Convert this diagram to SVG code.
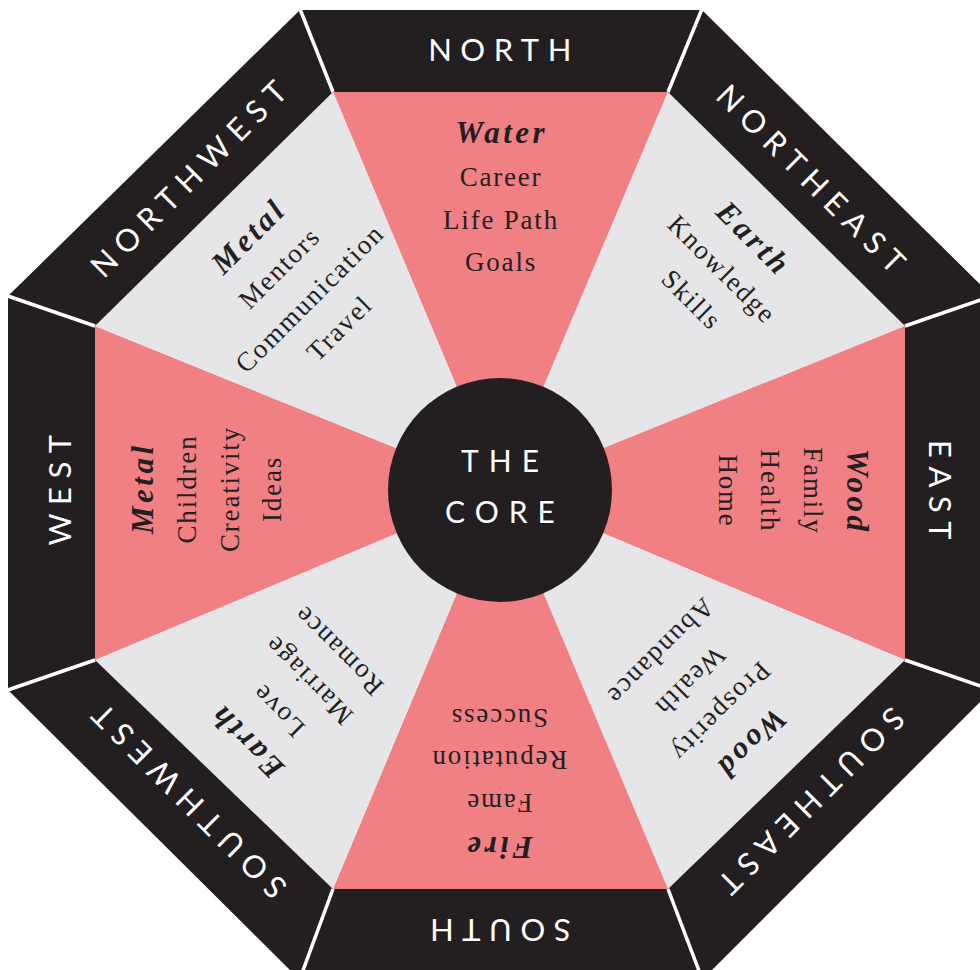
<svg xmlns="http://www.w3.org/2000/svg" width="980" height="970" viewBox="0 0 980 970">
<style>
.band{fill:#231f20}
.pink{fill:#f18085}
.gray{fill:#e6e6e8}
.dir{font-family:Lato,"Open Sans","Liberation Sans",sans-serif;font-size:31px;fill:#ffffff;letter-spacing:8.5px;text-anchor:middle}
.el{font-family:"Liberation Serif",serif;font-size:31px;font-weight:bold;font-style:italic;fill:#231f20;letter-spacing:3.5px;text-anchor:middle}
.ln{font-family:"Liberation Serif",serif;font-size:27px;fill:#231f20;letter-spacing:1.8px;text-anchor:middle}
.sep{stroke:#ffffff;stroke-width:3.5;fill:none}
.core{font-family:Lato,"Open Sans","Liberation Sans",sans-serif;font-size:30px;fill:#ffffff;letter-spacing:10px;text-anchor:middle}
</style>
<rect width="980" height="970" fill="#ffffff"/>

<g id="sector-north">
<polygon class="pink" points="500,490 333,92 668,92"/>
<text class="el" x="501.75" y="143">Water</text>
<text class="ln" x="501" y="186">Career</text>
<text class="ln" x="501" y="229">Life Path</text>
<text class="ln" x="501" y="271">Goals</text>
</g>
<g id="sector-northeast">
<polygon class="gray" points="500,490 668,92 905,326"/>
<g transform="rotate(45 500 490)">
<text class="el" x="501.75" y="143">Earth</text>
<text class="ln" x="501" y="186">Knowledge</text>
<text class="ln" x="501" y="229">Skills</text>
</g>
</g>
<g id="sector-east">
<polygon class="pink" points="500,490 905,326 905,660"/>
<g transform="rotate(90 500 490)">
<text class="el" x="501.75" y="143">Wood</text>
<text class="ln" x="501" y="186">Family</text>
<text class="ln" x="501" y="229">Health</text>
<text class="ln" x="501" y="271">Home</text>
</g>
</g>
<g id="sector-southeast">
<polygon class="gray" points="500,490 905,660 668,889"/>
<g transform="rotate(135 500 490)">
<text class="el" x="501.75" y="143">Wood</text>
<text class="ln" x="501" y="186">Prosperity</text>
<text class="ln" x="501" y="229">Wealth</text>
<text class="ln" x="501" y="271">Abundance</text>
</g>
</g>
<g id="sector-south">
<polygon class="pink" points="500,490 668,889 333,889"/>
<g transform="rotate(180 500 490)">
<text class="el" x="501.75" y="143">Fire</text>
<text class="ln" x="501" y="186">Fame</text>
<text class="ln" x="501" y="229">Reputation</text>
<text class="ln" x="501" y="271">Success</text>
</g>
</g>
<g id="sector-southwest">
<polygon class="gray" points="500,490 333,889 95,660"/>
<g transform="rotate(225 500 490)">
<text class="el" x="501.75" y="143">Earth</text>
<text class="ln" x="501" y="186">Love</text>
<text class="ln" x="501" y="229">Marriage</text>
<text class="ln" x="501" y="271">Romance</text>
</g>
</g>
<g id="sector-west">
<polygon class="pink" points="500,490 95,660 95,326"/>
<g transform="rotate(270 500 490)">
<text class="el" x="501.75" y="143">Metal</text>
<text class="ln" x="501" y="186">Children</text>
<text class="ln" x="501" y="229">Creativity</text>
<text class="ln" x="501" y="271">Ideas</text>
</g>
</g>
<g id="sector-northwest">
<polygon class="gray" points="500,490 95,326 333,92"/>
<g transform="rotate(315 500 490)">
<text class="el" x="501.75" y="143">Metal</text>
<text class="ln" x="501" y="186">Mentors</text>
<text class="ln" x="501" y="229">Communication</text>
<text class="ln" x="501" y="271">Travel</text>
</g>
</g>

<g id="band-north">
<polygon class="band" points="300,10 702,10 668,92 333,92"/>
<text class="dir" x="504" y="61">NORTH</text>
</g>
<g id="band-northeast">
<polygon class="band" points="702,10 992,296 905,326 668,92"/>
<text class="dir" x="504" y="61" transform="rotate(45 500 490)">NORTHEAST</text>
</g>
<g id="band-east">
<polygon class="band" points="992,296 992,690 905,660 905,326"/>
<text class="dir" x="504" y="61" transform="rotate(90 500 490)">EAST</text>
</g>
<g id="band-southeast">
<polygon class="band" points="992,690 702,980 668,889 905,660"/>
<text class="dir" x="504" y="61" transform="rotate(135 500 490)">SOUTHEAST</text>
</g>
<g id="band-south">
<polygon class="band" points="702,980 300,980 333,889 668,889"/>
<text class="dir" x="504" y="61" transform="rotate(180 500 490)">SOUTH</text>
</g>
<g id="band-southwest">
<polygon class="band" points="300,980 8,690 95,660 333,889"/>
<text class="dir" x="504" y="61" transform="rotate(225 500 490)">SOUTHWEST</text>
</g>
<g id="band-west">
<polygon class="band" points="8,690 8,296 95,326 95,660"/>
<text class="dir" x="504" y="61" transform="rotate(270 500 490)">WEST</text>
</g>
<g id="band-northwest">
<polygon class="band" points="8,296 300,10 333,92 95,326"/>
<text class="dir" x="504" y="61" transform="rotate(315 500 490)">NORTHWEST</text>
</g>

<g id="separators">
<line class="sep" x1="333" y1="92" x2="298" y2="4"/>
<line class="sep" x1="668" y1="92" x2="704" y2="4"/>
<line class="sep" x1="905" y1="326" x2="998" y2="294"/>
<line class="sep" x1="905" y1="660" x2="998" y2="692"/>
<line class="sep" x1="668" y1="889" x2="704" y2="984"/>
<line class="sep" x1="333" y1="889" x2="298" y2="984"/>
<line class="sep" x1="95" y1="660" x2="2" y2="692"/>
<line class="sep" x1="95" y1="326" x2="2" y2="294"/>
</g>

<g id="core">
<circle cx="500" cy="490" r="112" fill="#231f20"/>
<text class="core" x="505" y="472">THE</text>
<text class="core" x="505" y="523">CORE</text>
</g>
</svg>
